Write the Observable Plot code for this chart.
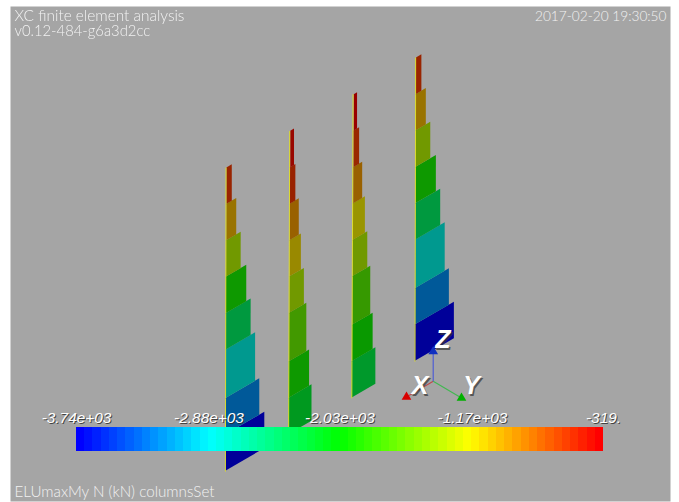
<!DOCTYPE html>
<html>
<head>
<meta charset="utf-8">
<script src="https://cdn.jsdelivr.net/npm/d3@7"></script>
<script src="https://cdn.jsdelivr.net/npm/@observablehq/plot@0.6"></script>
<style>
html,body{margin:0;padding:0;background:#fff}
svg{display:block;filter:blur(0.35px)}
</style>
</head>
<body>
<script>
// Model data
const columnY = [0, 5, 10, 15];              // column position along Y (m)
const levelZ = [0, 3, 6, 10, 13, 16, 19, 22, 25]; // storey levels (m)
const N1 = [-3740, -3245, -2830, -2380, -1950, -1400, -960, -520];
const N2 = [-2205, -1950, -1662, -1400, -1087, -863, -511, -360];
const N3 = [-2269, -1981, -1726, -1406, -1151, -863, -543, -319];
const N4 = [-3740, -3245, -2830, -2380, -1950, -1400, -960, -520];
const columnN = [N1, N2, N3, N4];
const columnLean = [1.2, 2, 2.3, 1.2];
const tickValues = [-3740, -2880, -2030, -1170, -319];
const tickLabels = ["-3.74e+03", "-2.88e+03", "-2.03e+03", "-1.17e+03", "-319."];
const Nmin = -3740, Nmax = -319, bands = 64;

// Axonometric view
const px = (Y) => 225.3 + 12.64 * Y;
const py = (Y, Z) => 470.7 - 7.33 * Y - 12.13 * Z;
const widthPerKN = 3.085 / 3740; // m of Y per kN

const hsv = (h, v) => {
  const f = (k) => {
    const a = (k + h / 60) % 6;
    return Math.round(255 * v * (1 - Math.max(0, Math.min(a, 4 - a, 1))));
  };
  return d3.rgb(f(5), f(3), f(1)).formatHex();
};
const tOf = (n) => (n - Nmin) / (Nmax - Nmin);
const hue = (t) => 240 * (1 - t);
const shaded = (n) => hsv(hue(tOf(n)), 0.6);

const rows = [];
const lines = [];
columnN.forEach((Ns, c) => {
  const Y = columnY[c];
  const lean = (Z) => columnLean[c] * Z / 25;
  Ns.forEach((n, i) => {
    const w = -n * widthPerKN;
    const L = lean(levelZ[i]);
    const id = c + "-" + i;
    const color = shaded(n);
    rows.push({id, color, x: px(Y) + L, y1: py(Y, levelZ[i]), y2: py(Y, levelZ[i + 1])});
    rows.push({id, color, x: px(Y + w) + L, y1: py(Y + w, levelZ[i]), y2: py(Y + w, levelZ[i + 1])});
  });
  levelZ.forEach((Z) => lines.push({c, x: px(Y) + lean(Z) * 0.55 - 0.4, y: py(Y, Z)}));
});

const barX = d3.scaleLinear([Nmin, Nmax], [76, 603]);
const step = (Nmax - Nmin) / bands;
const barBins = d3.range(bands).map((i) => ({
  n: Nmin + (Nmax - Nmin) * (i / (bands - 1)),
  x1: barX(Nmin + i * step),
  x2: barX(Nmin + (i + 1) * step)
}));
const ticks = tickValues.map((v, i) => ({x: barX(v), label: tickLabels[i]}));

const triadOrigin = {x: 432.7, y: 380.7};
const triad = [
  {name: "X", color: "#c04848", head: "#d80000", x: 406, y: 396.5, rot: 240, lx: 419.5, ly: 385.5},
  {name: "Y", color: "#40b850", head: "#00b000", x: 461, y: 397.5, rot: 120, lx: 471, ly: 385.5},
  {name: "Z", color: "#4858d8", head: "#1030c0", x: 432.7, y: 351, rot: 0, lx: 442.5, ly: 339.5}
];

const thin = "Lato, 'Noto Sans', sans-serif";
const bold = "'Liberation Sans', Arial, sans-serif";
const txt = (data, o) => Plot.text(data, {text: "t", x: "x", y: "y", fontFamily: thin, fontSize: 15.4, fontWeight: 300, fill: "#f2f2f2", ...o});

const plot = Plot.plot({
  width: 679, height: 502,
  marginLeft: 10, marginRight: 9, marginTop: 6, marginBottom: 1,
  x: {domain: [10, 670], range: [10, 670], axis: null},
  y: {domain: [6, 501], range: [6, 501], axis: null},
  color: {
    type: "linear", domain: [Nmin, Nmax],
    interpolate: (t) => hsv(hue(t), 1)
  },
  marks: [
    Plot.frame({fill: "#a5a5a5", stroke: "none"}),
    Plot.areaY(rows, {x: "x", y1: "y1", y2: "y2", z: "id", fill: "color", curve: "linear"}),
    Plot.line(lines, {x: "x", y: "y", z: "c", stroke: "#dcdc30", strokeWidth: 1}),
    Plot.link(triad, {x1: () => triadOrigin.x, y1: () => triadOrigin.y, x2: "x", y2: "y", stroke: "color", strokeWidth: 1.1}),
    Plot.dot(triad, {x: "x", y: "y", fill: "head", symbol: "triangle", r: 3.6, rotate: "rot"}),
    Plot.text(triad, {x: "lx", y: "ly", dx: 1.5, dy: 1.5, text: "name", fontFamily: bold, fontSize: 25, fontWeight: 700, fontStyle: "italic", fill: "#333", fillOpacity: 0.7}),
    Plot.text(triad, {x: "lx", y: "ly", text: "name", fontFamily: bold, fontSize: 25, fontWeight: 700, fontStyle: "italic", fill: "#fff"}),
    Plot.rect(barBins, {x1: "x1", x2: "x2", y1: () => 427, y2: () => 451, fill: "n", shapeRendering: "crispEdges"}),
    Plot.text(ticks, {x: "x", y: () => 418, dx: 1, dy: 1, text: "label", fontFamily: bold, fontSize: 15.4, fontStyle: "italic", fill: "#222", fillOpacity: 0.75}),
    Plot.text(ticks, {x: "x", y: () => 418, text: "label", fontFamily: bold, fontSize: 15.4, fontStyle: "italic", fill: "#fff"}),
    txt([{t: "XC finite element analysis", x: 14, y: 16}], {textAnchor: "start"}),
    txt([{t: "v0.12-484-g6a3d2cc", x: 14, y: 31}], {textAnchor: "start", fontSize: 14.8}),
    txt([{t: "2017-02-20 19:30:50", x: 666, y: 16}], {textAnchor: "end", fontSize: 13.7}),
    txt([{t: "ELUmaxMy N (kN) columnsSet", x: 14, y: 492}], {textAnchor: "start", fontSize: 15.2})
  ]
});
document.body.appendChild(plot);
</script>
</body>
</html>
